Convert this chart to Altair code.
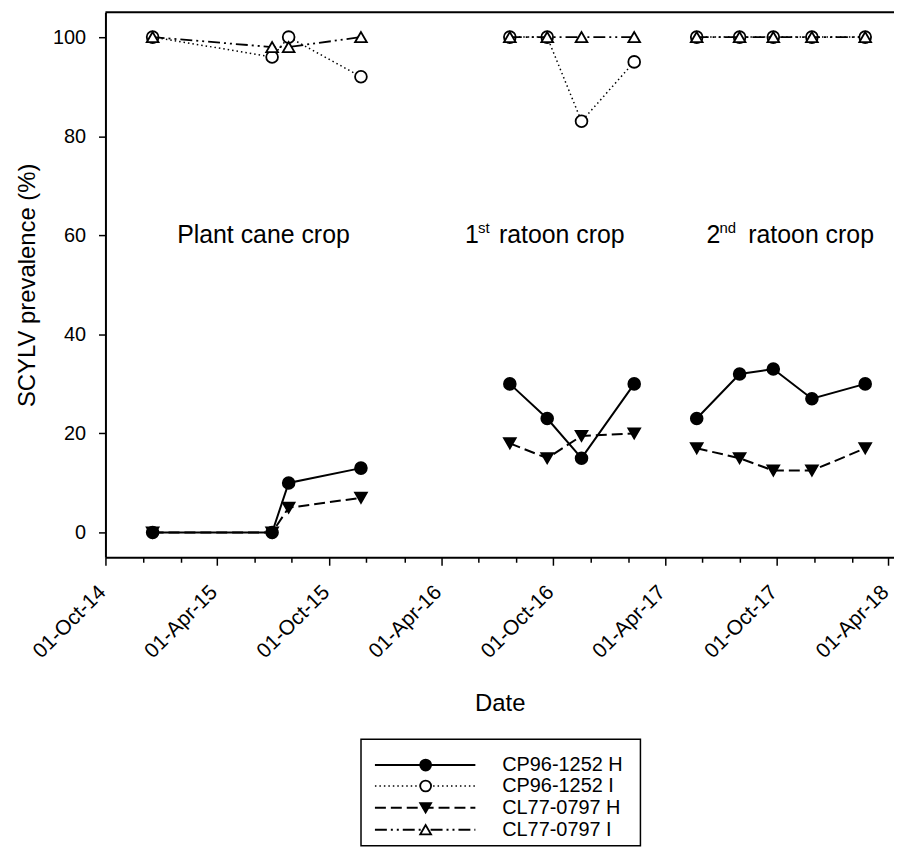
import altair as alt
import pandas as pd
from datetime import datetime, timezone

# ---------------- data ----------------
sample_dates = [
    "2014-12-17", "2015-06-30", "2015-07-27", "2015-11-22",
    "2016-07-22", "2016-09-21", "2016-11-16", "2017-02-10",
    "2017-05-23", "2017-08-01", "2017-09-25", "2017-11-27", "2018-02-22",
]
crop_cycle = ["Plant cane"] * 4 + ["1st ratoon"] * 4 + ["2nd ratoon"] * 5

cp_h = [0, 0, 10, 13, 30, 23, 15, 30, 23, 32, 33, 27, 30]
cp_i = [100, 96, 100, 92, 100, 100, 83, 95, 100, 100, 100, 100, 100]
cl_h = [0, 0, 5, 7, 18, 15, 19.5, 20, 17, 15, 12.5, 12.5, 17]
cl_i = [100, 98, 98, 100, 100, 100, 100, 100, 100, 100, 100, 100, 100]

series_names = ["CP96-1252 H", "CP96-1252 I", "CL77-0797 H", "CL77-0797 I"]
series_values = [cp_h, cp_i, cl_h, cl_i]

x_tick_dates = [
    "2014-10-01", "2014-12-01", "2015-02-01", "2015-04-01", "2015-06-01", "2015-08-01",
    "2015-10-01", "2015-12-01", "2016-02-01", "2016-04-01", "2016-06-01", "2016-08-01",
    "2016-10-01", "2016-12-01", "2017-02-01", "2017-04-01", "2017-06-01", "2017-08-01",
    "2017-10-01", "2017-12-01", "2018-02-01", "2018-04-01",
]
x_domain = ["2014-10-01", "2018-04-10"]
y_ticks = [0, 20, 40, 60, 80, 100]
y_domain = [-5, 105]

crop_labels = ["Plant cane crop", "1", "2"]
crop_label_dates = ["2015-01-26", "2016-05-10", "2017-06-08"]
crop_label_value = 60


def utc_ms(s):
    return int(datetime.strptime(s, "%Y-%m-%d").replace(tzinfo=timezone.utc).timestamp() * 1000)


rows = []
for name, vals in zip(series_names, series_values):
    for d, c, v in zip(sample_dates, crop_cycle, vals):
        rows.append({"date": d, "crop": c, "series": name, "value": v})
df = pd.DataFrame(rows)

# ---------------- layout / style ----------------
FONT = "Liberation Sans"
W, H = 793, 548

styles = {
    "CP96-1252 H": dict(dash=None, shape="circle", fill="black", lw=2.0),
    "CP96-1252 I": dict(dash=[1.5, 3], shape="circle", fill="white", lw=1.5),
    "CL77-0797 H": dict(dash=[11, 5], shape="triangle-down", fill="black", lw=2.0),
    "CL77-0797 I": dict(dash=[12, 4, 2, 4, 2, 4], shape="triangle-up", fill="white", lw=1.8),
}

x_axis = alt.Axis(
    values=[utc_ms(d) for d in x_tick_dates],
    labelExpr="utcmonth(datum.value) % 6 == 3 ? utcFormat(datum.value, '%d-%b-%y') : ''",
    tickSize={"condition": {"test": "utcmonth(datum.value) % 6 == 3", "value": 8}, "value": 5},
    labelAngle=-45, labelAlign="right", labelBaseline="top", labelPadding=16, labelOffset=-11,
    labelOverlap=False, labelBound=False, labelFlush=False,
    labelFontSize=21, titleFontSize=24, grid=False,
    titleY=147, titleBaseline="middle",
)
y_axis = alt.Axis(
    values=y_ticks, tickSize=7, labelPadding=13, labelFontSize=20,
    titleFontSize=24, grid=False, titleX=-78, titleBaseline="middle",
)

X = alt.X("date:T", scale=alt.Scale(type="utc", domain=[utc_ms(d) for d in x_domain]),
          axis=x_axis, title="Date")
Y = alt.Y("value:Q", scale=alt.Scale(domain=y_domain, nice=False, zero=False),
          axis=y_axis, title="SCYLV prevalence (%)")

layers = []
base = alt.Chart(df)
for name in series_names:
    st = styles[name]
    sub = base.transform_filter(alt.datum.series == name)
    line_kw = dict(color="black", strokeWidth=st["lw"])
    if st["dash"]:
        line_kw["strokeDash"] = st["dash"]
    layers.append(sub.mark_line(**line_kw).encode(x=X, y=Y, detail="crop:N"))
    layers.append(
        sub.mark_point(shape=st["shape"], filled=True, fill=st["fill"], stroke="black",
                       strokeWidth=1.8, size=140, opacity=1, fillOpacity=1)
        .encode(x=X, y=Y)
    )

# top frame line
frame = alt.Chart(pd.DataFrame({"k": [0]})).mark_rule(color="black", strokeWidth=2).encode(
    x=alt.value(0), x2=alt.value(W), y=alt.value(0))
layers.append(frame)

# crop annotations
ann = pd.DataFrame({"date": crop_label_dates, "label": crop_labels, "value": crop_label_value})
layers.append(alt.Chart(ann).mark_text(align="left", baseline="middle", fontSize=25, font=FONT,
                                       color="black").encode(x=X, y=Y, text="label:N"))
sup = pd.DataFrame({"date": crop_label_dates[1:], "label": ["st", "nd"], "value": crop_label_value})
layers.append(alt.Chart(sup).mark_text(align="left", baseline="middle", fontSize=15, font=FONT,
                                       dx=13, dy=-7, color="black").encode(x=X, y=Y, text="label:N"))
rest = pd.DataFrame({"date": crop_label_dates[1:], "label": ["ratoon crop", "ratoon crop"],
                     "value": crop_label_value})
layers.append(alt.Chart(rest.iloc[[0]]).mark_text(align="left", baseline="middle", fontSize=25, font=FONT,
                                                  dx=34, color="black").encode(x=X, y=Y, text="label:N"))
layers.append(alt.Chart(rest.iloc[[1]]).mark_text(align="left", baseline="middle", fontSize=25, font=FONT,
                                                  dx=42, color="black").encode(x=X, y=Y, text="label:N"))

# manual legend (line + marker), below the axis
LEG_X0, LEG_X1 = 257, 538
LEG_Y0, LEG_Y1 = 731, 838
row_y = [757, 778, 800, 822]
layers.append(alt.Chart(pd.DataFrame({"k": [0]})).mark_rect(fill="white", stroke="black", strokeWidth=1.5)
              .encode(x=alt.value(LEG_X0), x2=alt.value(LEG_X1), y=alt.value(LEG_Y0), y2=alt.value(LEG_Y1)))
for i, name in enumerate(series_names):
    st = styles[name]
    ldf = pd.DataFrame({"series": [name]})
    rk = dict(color="black", strokeWidth=st["lw"])
    if st["dash"]:
        rk["strokeDash"] = st["dash"]
    layers.append(alt.Chart(ldf).mark_rule(**rk).encode(
        x=alt.value(271), x2=alt.value(372), y=alt.value(row_y[i])))
    layers.append(alt.Chart(ldf).mark_point(shape=st["shape"], filled=True, fill=st["fill"], stroke="black",
                                            strokeWidth=1.8, size=120, opacity=1, fillOpacity=1)
                  .encode(x=alt.value(322), y=alt.value(row_y[i])))
    layers.append(alt.Chart(ldf).mark_text(align="left", baseline="middle", fontSize=20, font=FONT,
                                           color="black")
                  .encode(x=alt.value(399), y=alt.value(row_y[i]), text="series:N"))

chart = alt.layer(*layers).properties(
    width=W, height=H,
    autosize=alt.AutoSizeParams(type="none"),
    padding={"left": 98, "top": 2, "right": 0, "bottom": 290},
).configure(font=FONT).configure_view(stroke=None).configure_axis(
    domainColor="black", domainWidth=2, tickColor="black", tickWidth=1.5,
    labelColor="black", titleColor="black", titleFontWeight="normal",
    labelFont=FONT, titleFont=FONT,
)

chart.save("out.html", embed_options={"renderer": "svg", "actions": False})
